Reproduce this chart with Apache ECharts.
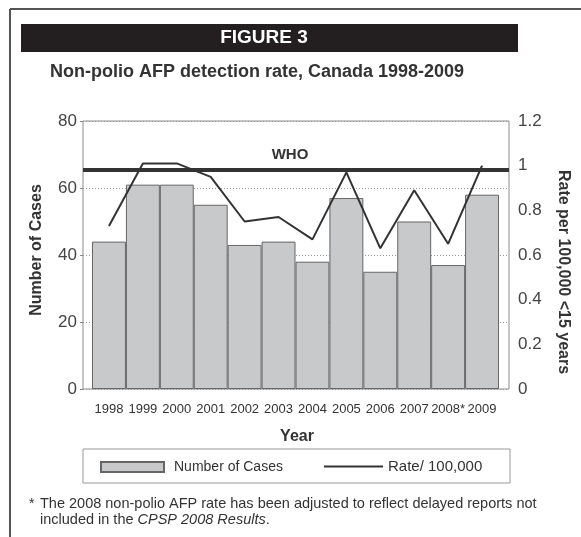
<!DOCTYPE html>
<html>
<head>
<meta charset="utf-8">
<title>Non-polio AFP detection rate, Canada 1998-2009</title>
<script src="https://cdn.jsdelivr.net/npm/echarts@6/dist/echarts.min.js"></script>
<style>
  html, body { margin: 0; padding: 0; background: #fff; }
  #chart { width: 581px; height: 537px; }
</style>
</head>
<body>
<div id="chart"></div>
<script>
// Surveillance years and their axis labels (2008 carries a footnote mark)
const years = ['1998', '1999', '2000', '2001', '2002', '2003', '2004', '2005', '2006', '2007', '2008', '2009'];
const yearLabels = ['1998', '1999', '2000', '2001', '2002', '2003', '2004', '2005', '2006', '2007', '2008*', '2009'];

// Reported non-polio AFP cases per year
const cases = [44, 61, 61, 55, 43, 44, 38, 57, 35, 50, 37, 58];

// Detection rate per 100,000 children under 15
const rates = [0.73, 1.01, 1.01, 0.95, 0.75, 0.77, 0.67, 0.97, 0.63, 0.89, 0.65, 1.00];

// WHO surveillance target rate
const whoTarget = 0.985;

// Axis ranges and tick steps
const casesAxis = { min: 0, max: 80, interval: 20 };
const rateAxis = { min: 0, max: 1.2, interval: 0.2 };

const TXT = '#333';
const sans = '"Liberation Sans", Arial, sans-serif';

const chart = echarts.init(document.getElementById('chart'), null, { renderer: 'canvas' });

const option = {
  backgroundColor: '#fff',
  animation: false,
  textStyle: { fontFamily: sans },
  grid: [
    // outer plot frame, carries both value axes
    { left: 83, top: 121, width: 426, height: 268, show: true, borderColor: '#8c8c8c', borderWidth: 1, backgroundColor: 'transparent' },
    // inner band holding the year columns
    { left: 92, top: 121, width: 407, height: 268 }
  ],
  xAxis: [
    { gridIndex: 0, type: 'category', data: years, show: false },
    {
      gridIndex: 1, type: 'category', data: yearLabels,
      axisLine: { show: false }, axisTick: { show: false },
      axisLabel: { margin: 14, fontSize: 13, color: TXT, interval: 0 }
    }
  ],
  yAxis: [
    {
      gridIndex: 0, type: 'value', position: 'left',
      min: casesAxis.min, max: casesAxis.max, interval: casesAxis.interval,
      axisLine: { show: false },
      axisTick: { show: true, length: 3, lineStyle: { color: '#888' } },
      axisLabel: { margin: 6, fontSize: 17, color: '#444' },
      splitLine: { show: true, lineStyle: { color: '#999', type: [1, 2], width: 1 } }
    },
    {
      gridIndex: 0, type: 'value', position: 'right',
      min: rateAxis.min, max: rateAxis.max, interval: rateAxis.interval,
      axisLine: { show: false }, axisTick: { show: false },
      axisLabel: { margin: 9, fontSize: 17, color: '#444' },
      splitLine: { show: false }
    },
    { gridIndex: 1, type: 'value', min: casesAxis.min, max: casesAxis.max, show: false, splitLine: { show: false } },
    { gridIndex: 1, type: 'value', min: rateAxis.min, max: rateAxis.max, show: false, splitLine: { show: false } }
  ],
  legend: [
    {
      left: 95, top: 455, itemWidth: 63, itemHeight: 10, itemGap: 0, selectedMode: false,
      data: [{ name: 'Number of Cases', icon: 'rect' }],
      textStyle: { fontSize: 14, color: TXT, padding: [0, 0, 0, 5] }
    },
    {
      left: 319, top: 454, itemWidth: 59, itemHeight: 2, itemGap: 0, selectedMode: false,
      data: [{ name: 'Rate/ 100,000', icon: 'rect', itemStyle: { color: '#333', borderWidth: 0 } }],
      textStyle: { fontSize: 15, color: TXT, padding: [0, 0, 0, 0] }
    }
  ],
  series: [
    {
      // WHO target drawn across the whole plot frame
      name: 'WHO', type: 'line', xAxisIndex: 0, yAxisIndex: 1,
      data: years.map(() => null), symbol: 'none', silent: true,
      markLine: {
        silent: true, symbol: 'none',
        lineStyle: { color: '#333', width: 4, type: 'solid' },
        label: {
          show: true, formatter: 'WHO', position: 'insideMiddleTop', distance: 8,
          fontWeight: 'bold', fontSize: 15, color: TXT, offset: [-6, 0]
        },
        data: [{ yAxis: whoTarget }]
      }
    },
    {
      name: 'Number of Cases', type: 'bar', xAxisIndex: 1, yAxisIndex: 2,
      data: cases, barWidth: '100%', barCategoryGap: '0%',
      itemStyle: { color: '#c8c9cb', borderColor: '#666', borderWidth: 1 },
      z: 2
    },
    {
      name: 'Rate/ 100,000', type: 'line', xAxisIndex: 1, yAxisIndex: 3,
      data: rates, symbol: 'none',
      lineStyle: { color: '#333', width: 2 },
      itemStyle: { color: '#333' },
      z: 5
    }
  ],
  graphic: [
    // page frame
    { type: 'line', shape: { x1: 10, y1: 9, x2: 581, y2: 9 }, style: { stroke: '#555', lineWidth: 2 } },
    { type: 'line', shape: { x1: 10, y1: 9, x2: 10, y2: 537 }, style: { stroke: '#555', lineWidth: 2 } },
    // heading bar
    { type: 'rect', shape: { x: 21, y: 24, width: 497, height: 28 }, style: { fill: '#231f20' } },
    {
      type: 'text', x: 264, y: 38,
      style: { text: 'FIGURE 3', fill: '#fff', font: 'bold 19px ' + sans, align: 'center', verticalAlign: 'middle' }
    },
    {
      type: 'text', x: 257, y: 72,
      style: { text: 'Non-polio AFP detection rate, Canada 1998-2009', fill: TXT, font: 'bold 18px ' + sans, align: 'center', verticalAlign: 'middle' }
    },
    // axis titles
    {
      type: 'text', x: 37, y: 250, rotation: Math.PI / 2,
      style: { text: 'Number of Cases', fill: TXT, font: 'bold 16px ' + sans, align: 'center', verticalAlign: 'middle' }
    },
    {
      type: 'text', x: 563, y: 272, rotation: -Math.PI / 2,
      style: { text: 'Rate per 100,000 <15 years', fill: TXT, font: 'bold 16px ' + sans, align: 'center', verticalAlign: 'middle' }
    },
    {
      type: 'text', x: 297, y: 437,
      style: { text: 'Year', fill: TXT, font: 'bold 16px ' + sans, align: 'center', verticalAlign: 'middle' }
    },
    // legend box
    { type: 'rect', shape: { x: 83, y: 449, width: 427, height: 34 }, style: { fill: 'none', stroke: '#999', lineWidth: 1 } },
    // footnote
    {
      type: 'text', x: 29, y: 504,
      style: { text: '*', fill: TXT, font: '14px ' + sans, align: 'left', verticalAlign: 'middle' }
    },
    {
      type: 'text', x: 40, y: 504,
      style: { text: 'The 2008 non-polio AFP rate has been adjusted to reflect delayed reports not', fill: TXT, font: '14.5px ' + sans, align: 'left', verticalAlign: 'middle' }
    },
    {
      type: 'text', x: 40, y: 520,
      style: {
        text: 'included in the {i|CPSP 2008 Results}.',
        fill: TXT, font: '14.5px ' + sans, align: 'left', verticalAlign: 'middle',
        rich: { i: { fontStyle: 'italic', fontSize: 14.5, fontFamily: sans, fill: TXT } }
      }
    }
  ]
};

chart.setOption(option);
</script>
</body>
</html>
